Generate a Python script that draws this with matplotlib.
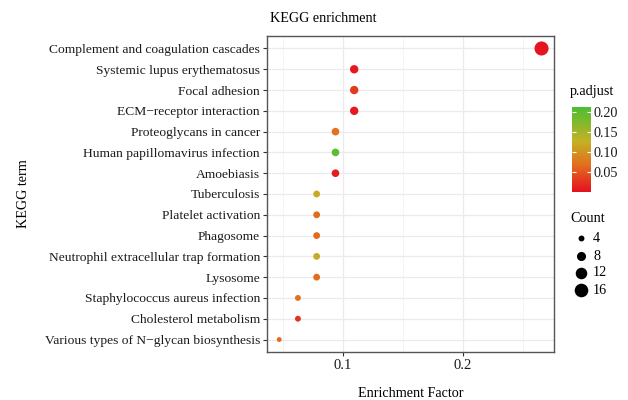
import matplotlib
matplotlib.use("Agg")
import matplotlib.pyplot as plt
import numpy as np
from matplotlib.colors import LinearSegmentedColormap, Normalize
from matplotlib.ticker import MultipleLocator

plt.rcParams['font.family'] = ['Liberation Serif', 'DejaVu Serif']

terms = [
    "Complement and coagulation cascades",
    "Systemic lupus erythematosus",
    "Focal adhesion",
    "ECM\u2212receptor interaction",
    "Proteoglycans in cancer",
    "Human papillomavirus infection",
    "Amoebiasis",
    "Tuberculosis",
    "Platelet activation",
    "Phagosome",
    "Neutrophil extracellular trap formation",
    "Lysosome",
    "Staphylococcus aureus infection",
    "Cholesterol metabolism",
    "Various types of N\u2212glycan biosynthesis",
]
enrichment = [0.2656, 0.1094, 0.1094, 0.1094, 0.0938, 0.0938, 0.0938,
              0.0781, 0.0781, 0.0781, 0.0781, 0.0781, 0.0625, 0.0625, 0.0469]
counts = [17, 7, 7, 7, 6, 6, 6, 5, 5, 5, 5, 5, 4, 4, 3]
padjust = [0.002, 0.004, 0.03, 0.005, 0.07, 0.20, 0.008,
           0.12, 0.065, 0.065, 0.12, 0.065, 0.07, 0.025, 0.065]
legend_counts = [4, 8, 12, 16]

cmap = LinearSegmentedColormap.from_list(
    "rg", [(0.0, "#E5121F"), (0.33, "#E2721F"), (0.6, "#C4B225"), (1.0, "#4DBE33")])
norm = Normalize(vmin=0.0, vmax=0.212)

def diam_px(c):
    return -1.8 + 3.85 * np.sqrt(c)

def area_pt(c):
    return (diam_px(c) * 0.72) ** 2

FS = 9.7
fig = plt.figure(figsize=(6.28, 4.0), dpi=100)
ax = fig.add_axes([267/628, 48/400, 287/628, 316/400])

n = len(terms)
ypos = np.arange(n)[::-1]
ax.scatter(enrichment, ypos, s=[area_pt(c) for c in counts], c=padjust,
           cmap=cmap, norm=norm, edgecolors='none', zorder=3)

ax.set_xlim(0.0367, 0.276)
ax.set_ylim(-0.6, n - 0.4)
ax.xaxis.set_minor_locator(MultipleLocator(0.05))
ax.set_xticks([0.1, 0.2])
ax.set_xticklabels(["0.1", "0.2"])
ax.set_yticks(ypos)
ax.set_yticklabels(terms)
ax.grid(True, which='major', color='#EBEBEB', linewidth=0.9, zorder=0)
ax.grid(True, which='minor', axis='x', color='#F2F2F2', linewidth=0.6, zorder=0)
ax.set_axisbelow(True)
for sp in ax.spines.values():
    sp.set_color('#555555')
    sp.set_linewidth(1.0)
ax.tick_params(axis='both', which='major', length=3, color='#333333',
               labelsize=FS, labelcolor='#1a1a1a', pad=2)
ax.tick_params(axis='x', which='major', labelsize=FS + 0.8)
ax.tick_params(axis='x', which='minor', length=0)

ax.set_xlabel("Enrichment Factor", fontsize=FS + 0.5, labelpad=11)
ax.set_ylabel("KEGG term", fontsize=FS + 0.5, labelpad=0)
ax.yaxis.set_label_coords(-0.825, 0.5)
ax.set_title("KEGG enrichment", fontsize=FS + 0.5, loc='left', pad=10, x=0.01)

# colorbar legend
cax = fig.add_axes([572/628, (400-192)/400, 19/628, 85/400])
grad = np.linspace(0, 0.212, 200).reshape(-1, 1)
cax.imshow(grad, aspect='auto', cmap=cmap, norm=norm, origin='lower',
           extent=[0, 1, 0, 0.212])
cax.set_xticks([])
cax.yaxis.tick_right()
cax.set_yticks([0.05, 0.10, 0.15, 0.20])
cax.set_yticklabels(["0.05", "0.10", "0.15", "0.20"])
cax.tick_params(axis='y', length=3, direction='in', color='white', labelsize=FS + 0.5,
                pad=2, labelcolor='#1a1a1a', left=True)
for sp in cax.spines.values():
    sp.set_visible(False)
fig.text(570/628, (400-91)/400, "p.adjust", fontsize=FS + 0.5, va='center', ha='left')

# size legend
fig.text(570/628, (400-218)/400, "Count", fontsize=FS + 0.5, va='center', ha='left')
leg_y = [238, 256, 273, 290]
for c, yy in zip(legend_counts, leg_y):
    fig.add_artist(plt.Line2D([581/628], [(400-yy)/400], marker='o',
                              markersize=diam_px(c) * 0.72, color='black',
                              markeredgewidth=0, transform=fig.transFigure))
    fig.text(593/628, (400-yy)/400, str(c), fontsize=FS + 0.5, va='center', ha='left')

fig.savefig("out.png", dpi=100)
